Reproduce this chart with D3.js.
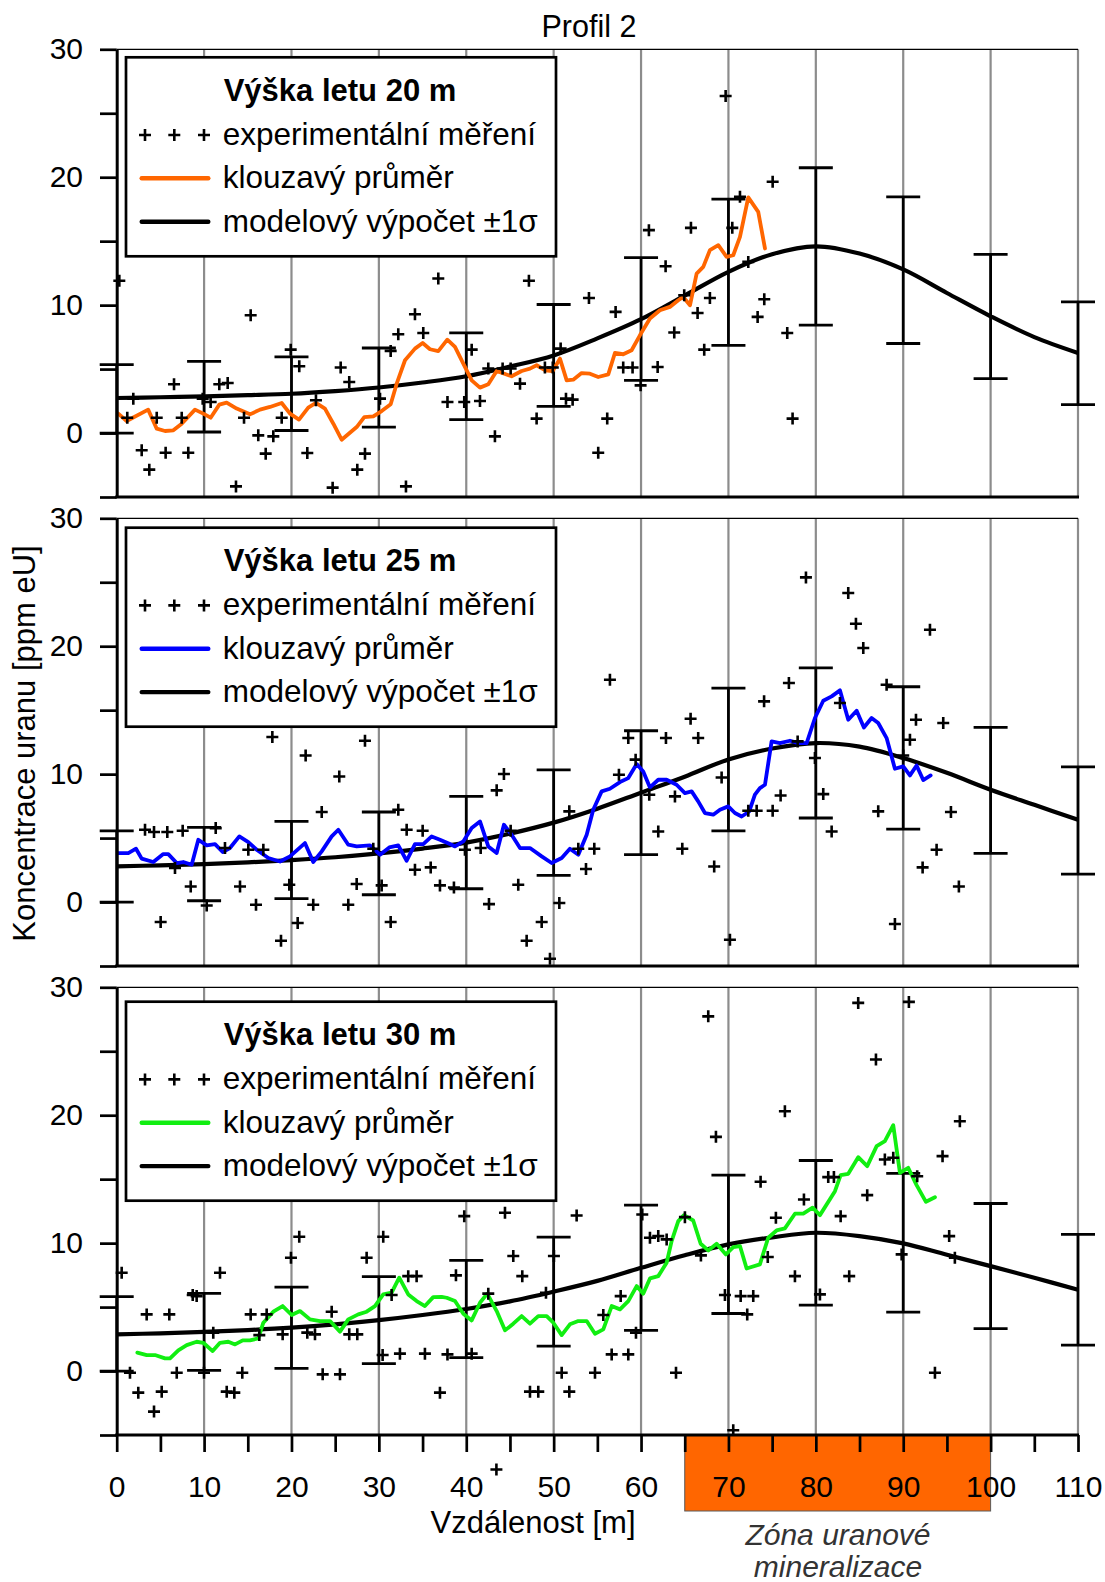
<!DOCTYPE html>
<html>
<head>
<meta charset="utf-8">
<script src="https://cdn.jsdelivr.net/npm/d3@7"></script>
<style>
  body { margin: 0; background: #fff; }
  svg { display: block; }
  text { font-family: "Liberation Sans", Arial, Helvetica, sans-serif; fill: #000; }
</style>
</head>
<body>
<svg id="chart" width="1105" height="1582"></svg>
<script>
// ---------- axis ticks ----------
const xTickValues = d3.range(0, 111, 5);          // minor every 5 m
const xLabelValues = d3.range(0, 111, 10);        // labelled every 10 m
const yTickValues = [-5, 0, 5, 10, 15, 20, 25, 30];
const yLabelValues = [0, 10, 20, 30];
const gridX = [10, 20, 30, 40, 50, 60, 70, 80, 90, 100, 110];

// ---------- model calculation (every 5 m) ----------
const modelX = [0, 5, 10, 15, 20, 25, 30, 35, 40, 45, 50, 55, 60, 65, 70, 75, 80, 85, 90, 95, 100, 105, 110];
const model20 = [2.74, 2.80, 2.87, 2.96, 3.07, 3.28, 3.56, 3.95, 4.44, 5.2, 6.07, 7.4, 8.9, 10.75, 12.6, 13.98, 14.6, 14.03, 12.79, 10.95, 9.13, 7.5, 6.26];
const model25 = [2.79, 2.87, 2.97, 3.1, 3.28, 3.5, 3.8, 4.18, 4.65, 5.35, 6.21, 7.3, 8.55, 9.8, 11.15, 12.0, 12.43, 12.15, 11.26, 10.1, 8.78, 7.6, 6.43];
const model30 = [2.87, 2.95, 3.06, 3.2, 3.39, 3.65, 3.98, 4.38, 4.85, 5.45, 6.21, 7.05, 8.07, 9.05, 9.9, 10.45, 10.81, 10.55, 9.98, 9.09, 8.2, 7.29, 6.36];

// ---------- model ±1σ (every 10 m) ----------
const errX = [0, 10, 20, 30, 40, 50, 60, 70, 80, 90, 100, 110];
const errHigh20 = [5.35, 5.6, 5.95, 6.65, 7.83, 10.05, 13.72, 18.29, 20.74, 18.47, 13.96, 10.25];
const errLow20  = [0.0, 0.08, 0.2, 0.47, 1.05, 2.09, 4.12, 6.86, 8.43, 7.0, 4.26, 2.22];
const errHigh25 = [5.57, 5.83, 6.3, 7.04, 8.26, 10.34, 13.39, 16.73, 18.3, 16.83, 13.65, 10.56];
const errLow25  = [0.0, 0.1, 0.26, 0.57, 1.04, 2.08, 3.7, 5.57, 6.57, 5.7, 3.8, 2.19];
const errHigh30 = [5.81, 6.07, 6.56, 7.38, 8.65, 10.47, 12.97, 15.31, 16.46, 15.45, 13.1, 10.68];
const errLow30  = [0.0, 0.05, 0.21, 0.58, 1.05, 1.95, 3.18, 4.5, 5.16, 4.61, 3.31, 2.03];

// ---------- moving average [distance m, ppm eU] ----------
const avg20 = [[0.18,1.52],[1.14,0.94],[3.6,1.83],[4.58,0.34],[5.53,0.16],[6.48,0.21],[7.44,0.73],[8.96,1.83],[9.91,1.52],[10.75,1.2],[11.74,2.22],[12.58,2.38],[13.73,1.91],[15.25,1.46],[16.4,1.83],[17.54,2.04],[18.88,2.35],[19.83,1.52],[20.86,1.05],[21.92,1.99],[22.8,2.35],[23.83,1.91],[24.79,0.73],[25.74,-0.52],[27.46,0.47],[28.33,1.25],[29.36,1.31],[30.32,1.72],[31.35,2.25],[32.04,3.86],[32.99,5.69],[34.13,6.6],[35.01,7.04],[35.85,6.55],[36.8,6.4],[37.83,7.3],[38.71,6.73],[39.66,5.43],[40.62,4.12],[41.57,3.55],[42.52,3.81],[43.48,4.85],[45.19,4.44],[46.34,4.85],[47.29,5.04],[48.05,5.3],[49.0,4.91],[49.89,4.85],[50.72,5.82],[51.49,4.12],[52.24,4.17],[53.2,4.69],[54.15,4.64],[55.1,4.38],[56.25,4.59],[57.01,6.26],[57.96,6.16],[58.92,6.47],[59.87,7.64],[61.02,8.95],[62.16,9.6],[63.3,9.86],[64.26,10.38],[64.83,10.64],[65.6,9.99],[66.36,12.47],[67.12,12.99],[67.88,14.3],[68.84,14.69],[69.79,13.77],[70.55,13.9],[71.32,15.34],[72.27,18.42],[73.41,17.29],[74.18,14.43]];
const avg25 = [[0.18,3.83],[1.33,3.83],[2.21,4.17],[2.86,3.39],[4.19,3.13],[5.33,3.75],[5.9,3.75],[6.87,3.05],[7.62,3.13],[8.58,2.92],[9.34,4.87],[10.3,4.43],[11.25,4.53],[12.13,3.91],[12.96,4.22],[14.03,5.13],[15.06,4.69],[16.02,4.09],[17.35,3.44],[18.68,3.17],[19.83,3.57],[21.54,4.61],[22.49,3.13],[23.46,3.96],[24.6,5.13],[25.36,5.65],[26.5,4.48],[27.46,4.35],[28.98,4.43],[30.13,3.7],[31.19,4.27],[32.22,4.43],[33.18,3.23],[34.13,4.53],[35.08,4.53],[36.04,5.13],[36.99,4.87],[38.13,4.53],[38.71,4.35],[39.66,4.74],[40.62,5.79],[41.57,6.3],[42.52,4.35],[43.48,3.83],[44.31,6.04],[45.19,5.26],[46.15,4.22],[47.29,4.22],[48.63,3.57],[49.77,3.05],[50.92,3.44],[51.86,4.17],[52.82,3.7],[53.78,5.26],[54.53,7.22],[55.49,8.65],[56.44,8.86],[57.59,9.38],[58.54,9.69],[59.5,10.79],[60.25,10.21],[61.02,8.96],[61.97,9.56],[62.93,9.56],[64.07,9.17],[65.02,8.52],[65.79,8.65],[66.54,7.87],[67.31,6.96],[68.26,6.83],[69.03,7.22],[69.98,7.48],[70.74,6.96],[71.51,6.69],[72.38,7.08],[73.03,8.39],[73.6,8.91],[74.18,9.17],[74.94,12.56],[75.89,12.43],[77.04,12.61],[77.99,12.43],[78.95,12.43],[79.9,14.39],[80.85,15.74],[81.81,16.08],[82.76,16.55],[83.71,14.25],[84.67,14.96],[85.5,13.65],[86.38,14.39],[87.14,14.0],[88.1,12.82],[89.05,10.42],[90.0,10.6],[90.77,9.9],[91.53,10.68],[92.29,9.54],[93.14,9.9]];
const avg30 = [[2.36,1.44],[3.43,1.25],[4.38,1.25],[5.53,0.99],[6.1,0.99],[7.05,1.62],[8.01,2.03],[9.15,2.29],[9.91,2.21],[10.98,1.56],[11.82,2.21],[12.77,2.29],[13.54,2.08],[14.42,2.4],[15.25,2.4],[16.2,2.55],[16.78,3.78],[17.92,4.64],[18.99,5.08],[20.02,4.38],[20.97,4.69],[22.12,4.04],[23.26,3.91],[24.41,3.91],[25.55,3.08],[26.5,4.04],[27.64,4.43],[28.6,4.64],[29.55,5.08],[30.5,5.99],[31.46,6.13],[32.33,7.3],[33.36,5.99],[34.32,5.47],[35.27,5.08],[36.22,5.78],[37.18,5.8],[37.76,5.73],[38.71,5.47],[39.66,4.48],[40.62,3.96],[41.57,5.34],[42.4,6.05],[43.48,4.69],[44.43,3.18],[45.38,3.7],[46.34,4.3],[47.29,3.7],[48.24,4.3],[49.2,4.3],[49.96,3.78],[50.92,2.81],[51.86,3.65],[52.82,3.91],[53.78,3.91],[54.73,2.92],[55.68,3.26],[56.64,5.08],[57.59,4.82],[58.54,5.47],[59.5,6.64],[60.25,6.05],[61.02,7.24],[61.97,7.42],[62.93,8.47],[63.5,10.16],[64.26,11.72],[64.91,12.19],[65.97,11.77],[66.82,9.95],[67.69,9.43],[68.65,9.95],[69.71,9.12],[70.55,9.69],[71.32,9.77],[72.08,8.02],[73.6,8.34],[74.55,10.42],[75.51,10.99],[76.46,11.15],[77.61,12.3],[78.56,12.3],[79.63,12.77],[80.47,12.19],[82.19,14.06],[82.84,15.31],[83.71,15.42],[84.85,16.72],[85.88,16.02],[86.96,17.58],[87.9,17.97],[88.86,19.22],[89.62,15.5],[90.57,15.89],[91.53,14.53],[92.6,13.23],[93.63,13.59]];

// ---------- experimental measurements [distance m, ppm eU] ----------
const meas20 = [[0.3,11.9],[1.21,1.2],[1.9,2.69],[2.86,-1.35],[3.73,-2.86],[4.58,1.2],[5.6,-1.54],[6.56,3.81],[7.44,1.2],[8.19,-1.54],[9.84,2.69],[10.75,2.43],[11.74,3.81],[12.7,3.91],[13.65,-4.17],[14.57,1.2],[15.33,9.21],[16.2,-0.18],[17.05,-1.61],[17.92,-0.26],[18.88,1.2],[19.91,6.52],[20.89,5.22],[21.81,-1.56],[22.8,2.56],[24.71,-4.27],[25.63,5.12],[26.61,3.99],[27.53,-2.86],[28.41,-1.61],[30.13,2.69],[31.35,6.42],[32.22,7.72],[33.1,-4.17],[34.13,9.29],[35.08,7.82],[36.8,12.08],[37.85,2.43],[39.77,2.43],[40.62,6.52],[41.57,2.5],[42.52,5.04],[43.28,-0.26],[44.16,5.04],[45.08,5.04],[46.15,3.86],[47.17,11.9],[48.05,1.13],[49.0,5.12],[49.9,5.12],[50.8,6.6],[51.41,2.69],[52.17,2.61],[54.04,10.56],[55.1,-1.54],[56.13,1.13],[57.09,9.47],[57.96,5.12],[59.03,5.12],[59.95,3.73],[60.9,15.86],[61.9,5.16],[62.81,13.04],[63.8,7.86],[64.94,10.77],[65.71,16.04],[66.47,9.39],[67.23,6.52],[67.88,10.56],[69.68,26.35],[70.44,16.04],[71.32,18.47],[72.27,13.38],[73.34,9.08],[74.1,10.46],[75.06,19.64],[76.73,7.82],[77.34,1.13]];
const meas25 = [[3.24,5.65],[4.27,5.47],[5.79,5.47],[7.55,5.57],[11.33,5.78],[6.67,2.66],[8.47,1.22],[5.03,-1.56],[10.3,-0.27],[12.39,4.22],[15.06,4.09],[16.78,4.09],[14.11,1.22],[15.94,-0.21],[17.81,12.9],[18.8,-3.03],[19.75,1.35],[20.71,-1.64],[21.62,11.46],[22.49,-0.21],[23.46,7.04],[25.47,9.82],[26.5,-0.21],[27.46,1.41],[28.41,12.61],[29.36,4.17],[30.32,1.3],[31.35,-1.56],[32.22,7.22],[33.18,5.65],[35.01,5.57],[34.13,2.53],[35.93,2.71],[36.99,1.3],[38.59,1.14],[39.85,4.09],[41.65,4.22],[42.6,-0.16],[43.48,8.73],[44.31,10.01],[45.08,5.57],[45.95,1.35],[46.91,-3.03],[48.63,-1.56],[49.58,-4.43],[50.65,-0.08],[51.79,7.09],[52.82,4.17],[53.7,2.58],[54.65,4.17],[56.44,17.38],[57.47,9.95],[58.54,12.82],[59.38,11.13],[60.94,8.39],[61.97,5.52],[62.85,12.82],[63.88,8.26],[64.72,4.17],[65.67,14.33],[66.54,12.82],[68.37,2.78],[69.22,9.74],[70.17,-2.95],[72.27,7.14],[73.23,7.14],[74.08,15.69],[75.06,7.14],[75.97,8.33],[76.92,17.12],[77.92,12.56],[78.87,25.38],[79.9,11.26],[80.85,8.44],[81.81,5.52],[82.76,15.56],[83.71,24.16],[84.59,21.76],[85.43,19.86],[87.14,7.09],[88.1,16.99],[89.05,-1.72],[90.0,11.46],[90.77,12.69],[91.46,14.25],[93.06,21.29],[94.58,14.0],[92.22,2.71],[93.82,4.09],[95.46,7.04],[96.37,1.22]];
const meas30 = [[0.57,7.69],[1.52,-0.13],[2.47,-1.69],[3.43,4.43],[4.27,-3.17],[5.15,-1.61],[6.02,4.43],[6.87,-0.13],[8.7,5.94],[9.15,5.86],[9.99,-0.13],[11.05,3.0],[11.82,7.69],[12.59,-1.61],[13.46,-1.69],[14.37,-0.13],[15.33,4.43],[16.32,2.81],[17.16,4.43],[18.99,2.87],[19.94,8.86],[20.89,10.5],[21.81,3.0],[22.69,2.87],[23.57,-0.26],[24.6,4.64],[25.55,-0.26],[26.61,2.87],[27.53,2.87],[28.6,8.86],[30.5,10.5],[30.43,1.25],[31.46,5.94],[32.41,1.36],[33.36,7.42],[34.32,7.42],[35.27,1.36],[36.99,-1.69],[37.85,1.3],[38.82,7.48],[39.77,12.11],[40.62,1.36],[42.52,6.05],[43.45,-7.7],[44.43,12.38],[45.38,8.99],[46.41,7.42],[47.29,-1.61],[48.24,-1.61],[49.12,6.12],[50.03,8.99],[50.92,-0.13],[51.79,-1.61],[52.63,12.16],[54.73,-0.13],[55.68,4.38],[56.64,1.3],[57.67,5.86],[58.54,1.3],[59.42,3.0],[60.14,12.24],[61.02,10.42],[61.97,10.55],[62.93,10.29],[64.0,-0.13],[65.02,12.03],[66.85,9.04],[67.69,27.73],[68.57,18.31],[69.6,5.94],[70.55,-4.63],[71.4,5.86],[72.15,4.43],[72.84,5.86],[73.68,14.8],[74.5,8.91],[75.43,11.98],[76.46,20.31],[77.61,7.42],[78.64,13.41],[80.47,5.99],[81.42,15.16],[82.07,15.16],[82.84,12.11],[83.82,7.42],[84.85,28.78],[85.88,13.75],[86.88,24.35],[87.9,16.54],[88.86,16.67],[89.82,9.12],[90.65,28.86],[91.6,15.23],[93.63,-0.13],[94.5,16.8],[95.26,10.55],[95.91,8.86],[96.48,19.53]];

// ---------- mineralisation zone [from, to] in m ----------
const zone = [65, 100];

// ---------- layout ----------
const svg = d3.select("#chart");
const x = d3.scaleLinear().domain([0, 110]).range([116.7, 1078]);
const PANEL_H = 447.7;
const LEGEND_W = 430, LEGEND_H = 199;

const panels = [
  { top: 49.3,  legendY: 57.3,   heading: "Výška letu 20 m", color: "#ff6600", meas: meas20, avg: avg20, model: model20, hi: errHigh20, lo: errLow20 },
  { top: 518.3, legendY: 527.7,  heading: "Výška letu 25 m", color: "#0000ff", meas: meas25, avg: avg25, model: model25, hi: errHigh25, lo: errLow25 },
  { top: 987.3, legendY: 1001.7, heading: "Výška letu 30 m", color: "#11ee11", meas: meas30, avg: avg30, model: model30, hi: errHigh30, lo: errLow30 }
];

const crossPath = "M-6,0H6M0,-6V6";

panels.forEach((p, i) => {
  const y = d3.scaleLinear().domain([-5, 30]).range([p.top + PANEL_H, p.top]);
  const g = svg.append("g").attr("class", "panel");

  // vertical grid (x = 110 doubles as the right frame)
  g.append("g").selectAll("line").data(gridX).join("line")
    .attr("x1", d => x(d)).attr("x2", d => x(d))
    .attr("y1", y(30)).attr("y2", y(-5))
    .attr("stroke", "#8c8c8c").attr("stroke-width", 2.2);

  // top frame
  g.append("line")
    .attr("x1", x(0)).attr("x2", x(110)).attr("y1", y(30)).attr("y2", y(30))
    .attr("stroke", "#000").attr("stroke-width", 1.3);

  // model curve
  const modelLine = d3.line().x(d => x(d[0])).y(d => y(d[1])).curve(d3.curveCatmullRom.alpha(0.5));
  g.append("path")
    .datum(modelX.map((v, k) => [v, p.model[k]]))
    .attr("d", modelLine)
    .attr("fill", "none").attr("stroke", "#000").attr("stroke-width", 4.2);

  // ±1σ error bars
  const eb = g.append("g").attr("stroke", "#000").attr("stroke-width", 2.8);
  const ebData = errX.map((v, k) => ({ x: v, hi: p.hi[k], lo: p.lo[k] }));
  eb.selectAll("line.stem").data(ebData).join("line").attr("class", "stem")
    .attr("x1", d => x(d.x)).attr("x2", d => x(d.x))
    .attr("y1", d => y(d.hi)).attr("y2", d => y(d.lo));
  ["hi", "lo"].forEach(key => {
    eb.selectAll("line.cap-" + key).data(ebData).join("line").attr("class", "cap-" + key)
      .attr("x1", d => x(d.x) - 17).attr("x2", d => x(d.x) + 17)
      .attr("y1", d => y(d[key])).attr("y2", d => y(d[key]));
  });

  // moving average
  const avgLine = d3.line().x(d => x(d[0])).y(d => y(d[1]));
  g.append("path")
    .datum(p.avg)
    .attr("d", avgLine)
    .attr("fill", "none").attr("stroke", p.color)
    .attr("stroke-width", 3.8).attr("stroke-linejoin", "round").attr("stroke-linecap", "round");

  // experimental measurements
  g.append("g").selectAll("path").data(p.meas).join("path")
    .attr("transform", d => `translate(${x(d[0])},${y(d[1])})`)
    .attr("d", crossPath)
    .attr("stroke", "#000").attr("stroke-width", 2.6).attr("fill", "none");

  // left axis
  const yAxis = d3.axisLeft(y)
    .tickValues(yTickValues)
    .tickFormat(d => yLabelValues.includes(d) ? d : "")
    .tickSize(16.7).tickPadding(17).tickSizeOuter(0);
  const ya = g.append("g").attr("transform", `translate(${x(0)},0)`).call(yAxis);
  ya.select(".domain").attr("stroke", "#000").attr("stroke-width", 3);
  ya.selectAll(".tick line").attr("stroke", "#000").attr("stroke-width", 2.7);
  ya.selectAll(".tick text").attr("font-size", 30).attr("font-family", null).attr("fill", "#000");

  // mineralisation zone under the lowest axis
  if (i === panels.length - 1) {
    g.append("rect")
      .attr("x", x(zone[0])).attr("y", y(-5))
      .attr("width", x(zone[1]) - x(zone[0])).attr("height", 76)
      .attr("fill", "#ff6600").attr("stroke", "#5a5a5a").attr("stroke-width", 1);

    const xAxis = d3.axisBottom(x)
      .tickValues(xTickValues)
      .tickFormat(d => xLabelValues.includes(d) ? d : "")
      .tickSize(17).tickSizeOuter(0);
    const xa = g.append("g").attr("transform", `translate(0,${y(-5)})`).call(xAxis);
    xa.select(".domain").remove();
    xa.selectAll(".tick line").attr("stroke", "#000").attr("stroke-width", 2.7);
    xa.selectAll(".tick text")
      .attr("font-size", 30).attr("font-family", null).attr("fill", "#000")
      .attr("y", 62).attr("dy", 0);
  }

  // bottom frame
  g.append("line")
    .attr("x1", x(0) - 1.5).attr("x2", x(110) + 1)
    .attr("y1", y(-5)).attr("y2", y(-5))
    .attr("stroke", "#000").attr("stroke-width", 3.2);

  // legend
  const lg = g.append("g").attr("transform", `translate(126,${p.legendY})`);
  lg.append("rect").attr("width", LEGEND_W).attr("height", LEGEND_H)
    .attr("fill", "#fff").attr("stroke", "#000").attr("stroke-width", 2.7);
  lg.append("text").attr("x", LEGEND_W / 2 - 1).attr("y", 43.5)
    .attr("text-anchor", "middle").attr("font-size", 31).attr("font-weight", "bold")
    .text(p.heading);
  lg.append("g").selectAll("path").data([19, 48.3, 78]).join("path")
    .attr("transform", d => `translate(${d},77.7)`)
    .attr("d", crossPath).attr("stroke", "#000").attr("stroke-width", 2.6);
  lg.append("line").attr("x1", 15.7).attr("x2", 82.3).attr("y1", 121).attr("y2", 121)
    .attr("stroke", p.color).attr("stroke-width", 4.4).attr("stroke-linecap", "round");
  lg.append("line").attr("x1", 15.7).attr("x2", 82.3).attr("y1", 164.4).attr("y2", 164.4)
    .attr("stroke", "#000").attr("stroke-width", 4.4).attr("stroke-linecap", "round");
  const labels = ["experimentální měření", "klouzavý průměr", "modelový výpočet ±1σ"];
  lg.selectAll("text.item").data(labels).join("text").attr("class", "item")
    .attr("x", 96.7).attr("y", (d, k) => 87.7 + k * 43.3)
    .attr("font-size", 31.5).text(d => d);
});

// titles
svg.append("text").attr("x", 589).attr("y", 36.7).attr("text-anchor", "middle")
  .attr("font-size", 30.5).text("Profil 2");

svg.append("text")
  .attr("transform", "translate(35,743.5) rotate(-90)")
  .attr("text-anchor", "middle").attr("font-size", 31)
  .text("Koncentrace uranu [ppm eU]");

svg.append("text").attr("x", 533).attr("y", 1533).attr("text-anchor", "middle")
  .attr("font-size", 31).text("Vzdálenost [m]");

const zoneLabel = svg.append("text").attr("text-anchor", "middle")
  .attr("font-size", 30).attr("font-style", "italic").style("fill", "#333");
zoneLabel.append("tspan").attr("x", 838).attr("y", 1545).text("Zóna uranové");
zoneLabel.append("tspan").attr("x", 838).attr("y", 1577).text("mineralizace");
</script>
</body>
</html>
